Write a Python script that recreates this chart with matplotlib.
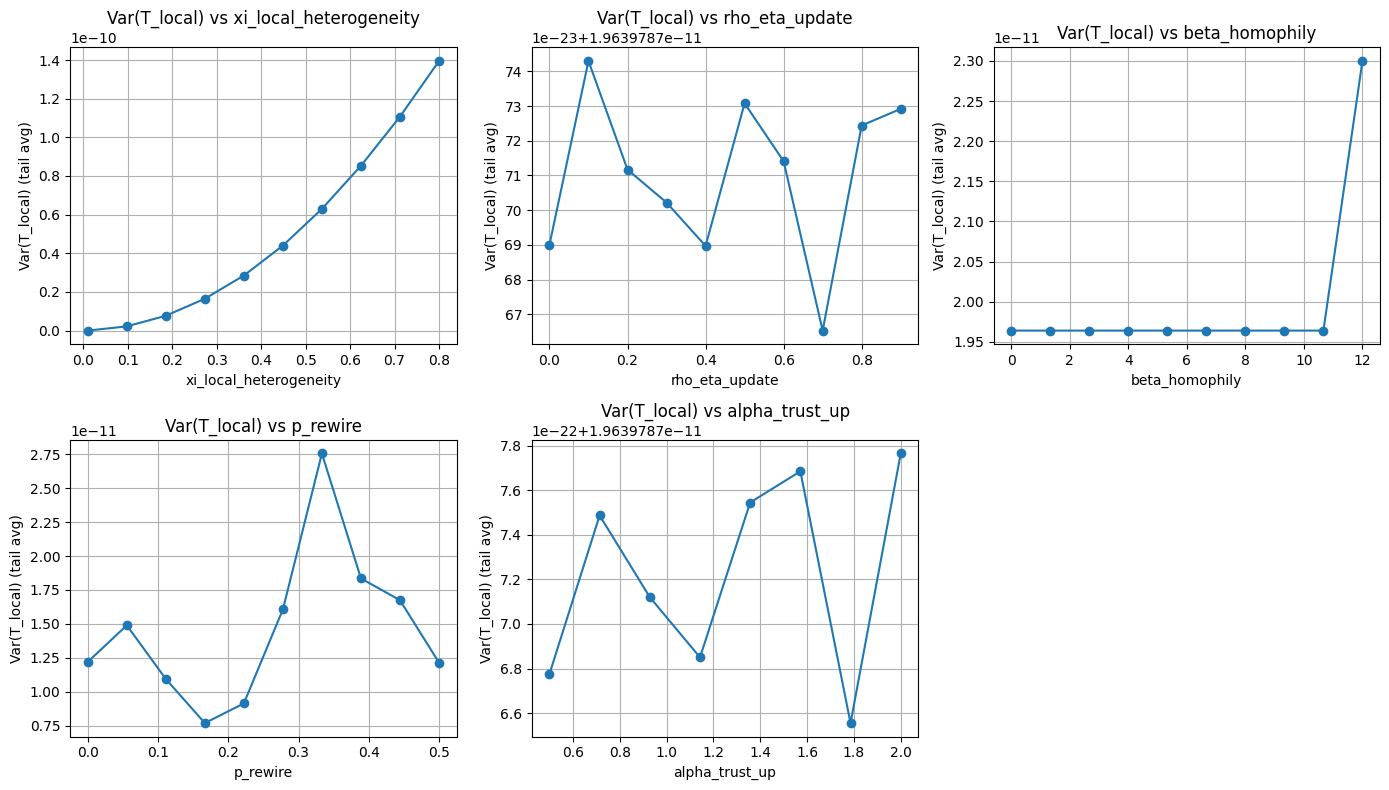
import matplotlib
matplotlib.use("Agg")
import matplotlib.pyplot as plt

# sweep values and tail-averaged variances
base = 1.9639787e-11

xi_vals = [0.01, 0.0978, 0.1856, 0.2733, 0.3611, 0.4489, 0.5367, 0.6244, 0.7122, 0.8]
xi_var = [0.0002e-10, 0.022e-10, 0.077e-10, 0.165e-10, 0.285e-10,
          0.44e-10, 0.63e-10, 0.853e-10, 1.107e-10, 1.395e-10]

rho_vals = [0.0, 0.1, 0.2, 0.3, 0.4, 0.5, 0.6, 0.7, 0.8, 0.9]
rho_dev = [69.0, 74.3, 71.17, 70.22, 68.97, 73.08, 71.41, 66.53, 72.44, 72.92]  # x 1e-23 above base
rho_var = [base + d * 1e-23 for d in rho_dev]

beta_vals = [0.0, 1.3333, 2.6667, 4.0, 5.3333, 6.6667, 8.0, 9.3333, 10.6667, 12.0]
beta_var = [1.9639787e-11] * 9 + [2.30e-11]

p_vals = [0.0, 0.0556, 0.1111, 0.1667, 0.2222, 0.2778, 0.3333, 0.3889, 0.4444, 0.5]
p_var = [1.22e-11, 1.49e-11, 1.095e-11, 0.77e-11, 0.915e-11,
         1.607e-11, 2.755e-11, 1.835e-11, 1.675e-11, 1.215e-11]

alpha_vals = [0.5, 0.7143, 0.9286, 1.1429, 1.3571, 1.5714, 1.7857, 2.0]
alpha_dev = [6.775, 7.487, 7.12, 6.85, 7.545, 7.685, 6.555, 7.765]  # x 1e-22 above base
alpha_var = [base + d * 1e-22 for d in alpha_dev]

sweeps = [
    ("xi_local_heterogeneity", xi_vals, xi_var),
    ("rho_eta_update", rho_vals, rho_var),
    ("beta_homophily", beta_vals, beta_var),
    ("p_rewire", p_vals, p_var),
    ("alpha_trust_up", alpha_vals, alpha_var),
]

fig, axes = plt.subplots(2, 3, figsize=(14, 8), dpi=100)
axes = axes.flatten()

for ax, (name, xs, ys) in zip(axes, sweeps):
    ax.plot(xs, ys, marker="o")
    ax.set_title(f"Var(T_local) vs {name}")
    ax.set_xlabel(name)
    ax.set_ylabel("Var(T_local) (tail avg)")
    ax.grid(True)

# only five sweeps, drop the empty slot
fig.delaxes(axes[5])

plt.tight_layout()
plt.savefig("out.png", dpi=100, bbox_inches="tight")
